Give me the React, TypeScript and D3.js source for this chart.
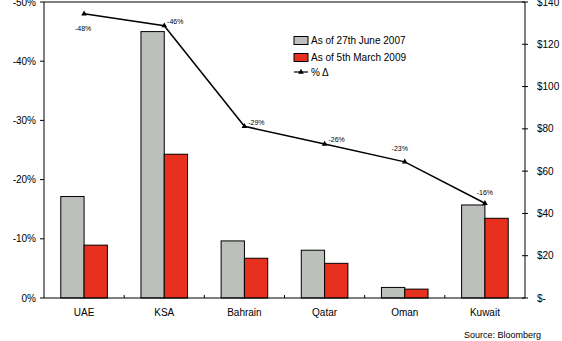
import React from "react";
import * as d3 from "d3";

const categories = ["UAE", "KSA", "Bahrain", "Qatar", "Oman", "Kuwait"];
const june2007 = [48, 126, 27, 22.6, 5, 44];
const march2009 = [25, 68, 18.8, 16.4, 4.2, 37.7];
const pctChange = [-48, -46, -29, -26, -23, -16];
const pctLabels = ["-48%", "-46%", "-29%", "-26%", "-23%", "-16%"];
const leftTicks = [0, -10, -20, -30, -40, -50];
const rightTicks = [0, 20, 40, 60, 80, 100, 120, 140];
const seriesNames = ["As of 27th June 2007", "As of 5th March 2009", "% \u0394"];

const W = 562, H = 341;
const left = 44, right = 525, top = 2, bottom = 298;
const FONT = "'Liberation Sans', Arial, sans-serif";
const GREY = "#BCC0BA";
const RED = "#E8301E";

// label offsets relative to point (dx, dy)
const labelOffsets: [number, number][] = [[-1, 15], [11, -4], [12, -4], [12, -5], [-5, -13], [0, -11]];

export default function App() {
  const x = d3.scaleBand<string>().domain(categories).range([left, right]).paddingInner(0).paddingOuter(0);
  const yL = d3.scaleLinear().domain([0, -50]).range([bottom, top]);
  const yR = d3.scaleLinear().domain([0, 140]).range([bottom, top]);
  const bw = 23.3;
  const line = d3.line<number>()
    .x((_, i) => (x(categories[i]) as number) + x.bandwidth() / 2)
    .y((d) => yL(d));
  const tri = d3.symbol().type(d3.symbolTriangle).size(14)();

  return (
    <svg width={W} height={H} style={{ position: "absolute", left: 0, top: 0, background: "#fff" }} fontFamily={FONT}>
      {/* bars */}
      {categories.map((c, i) => {
        const cx = (x(c) as number) + x.bandwidth() / 2;
        return (
          <g key={c}>
            <rect x={cx - bw} y={yR(june2007[i])} width={bw} height={bottom - yR(june2007[i])} fill={GREY} stroke="#000" strokeWidth={1} />
            <rect x={cx} y={yR(march2009[i])} width={bw} height={bottom - yR(march2009[i])} fill={RED} stroke="#000" strokeWidth={1} />
          </g>
        );
      })}
      {/* frame top */}
      <line x1={left} x2={right} y1={top} y2={top} stroke="#000" strokeWidth={1} />
      {/* left axis */}
      <line x1={left} x2={left} y1={top} y2={bottom} stroke="#000" strokeWidth={1} />
      {leftTicks.map((t) => (
        <g key={t}>
          <line x1={left - 4} x2={left} y1={yL(t)} y2={yL(t)} stroke="#000" />
          <text x={36} y={yL(t)} dy="0.35em" textAnchor="end" fontSize={10} fill="#000">{`${t}%`}</text>
        </g>
      ))}
      {/* right axis */}
      <line x1={right} x2={right} y1={top} y2={bottom} stroke="#000" strokeWidth={1} />
      {rightTicks.map((t) => (
        <g key={t}>
          <line x1={right - 3} x2={right + 3} y1={yR(t)} y2={yR(t)} stroke="#000" />
          <text x={537} y={yR(t)} dy="0.35em" textAnchor="start" fontSize={10} fill="#000">{t === 0 ? "$-" : `$${t}`}</text>
        </g>
      ))}
      {/* x axis */}
      <line x1={left} x2={right} y1={bottom} y2={bottom} stroke="#000" strokeWidth={1} />
      {categories.slice(1).map((c) => (
        <line key={c} x1={x(c) as number} x2={x(c) as number} y1={bottom} y2={bottom - 3} stroke="#000" />
      ))}
      {categories.map((c) => (
        <text key={c} x={(x(c) as number) + x.bandwidth() / 2} y={316} textAnchor="middle" fontSize={10} fill="#000">{c}</text>
      ))}
      {/* line */}
      <path d={line(pctChange) as string} fill="none" stroke="#000" strokeWidth={1.5} />
      {pctChange.map((v, i) => {
        const px = (x(categories[i]) as number) + x.bandwidth() / 2;
        const py = yL(v);
        return (
          <g key={i}>
            <path d={tri as string} transform={`translate(${px},${py})`} fill="#000" />
            <text x={px + labelOffsets[i][0]} y={py + labelOffsets[i][1]} dy="0.35em" textAnchor="middle" fontSize={7} fill="#000">{pctLabels[i]}</text>
          </g>
        );
      })}
      {/* legend */}
      <rect x={294} y={36.5} width={14} height={8} fill={GREY} stroke="#000" />
      <text x={311} y={40.5} dy="0.35em" fontSize={10}>{seriesNames[0]}</text>
      <rect x={294} y={53.5} width={14} height={8} fill={RED} stroke="#000" />
      <text x={311} y={57.5} dy="0.35em" fontSize={10}>{seriesNames[1]}</text>
      <line x1={294} x2={308} y1={72} y2={72} stroke="#000" strokeWidth={1.2} />
      <path d={tri as string} transform="translate(301,72)" fill="#000" />
      <text x={311} y={72} dy="0.35em" fontSize={10}>{seriesNames[2]}</text>
      {/* source */}
      <text x={541} y={335} dy="0.35em" textAnchor="end" fontSize={9}>Source: Bloomberg</text>
    </svg>
  );
}
